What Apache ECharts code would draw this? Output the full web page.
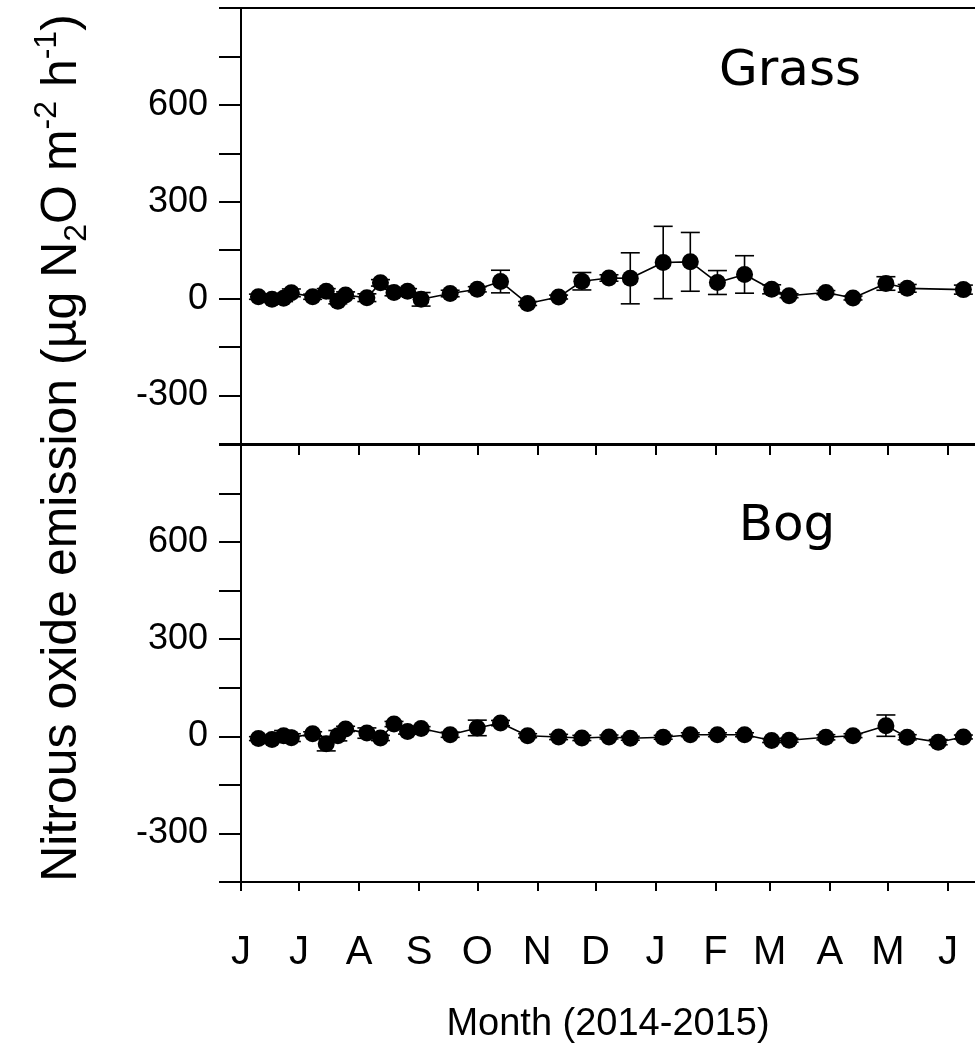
<!DOCTYPE html>
<html><head><meta charset="utf-8">
<script src="https://cdn.jsdelivr.net/npm/echarts@6/dist/echarts.min.js"></script>
<style>html,body{margin:0;padding:0;background:#fff}#c{width:975px;height:1050px}</style>
</head><body><div id="c"></div>
<script>
// ---- data ----
const monthLetters = ['J','J','A','S','O','N','D','J','F','M','A','M','J'];
const monthStarts = ['2014-06-01','2014-07-01','2014-08-01','2014-09-01','2014-10-01','2014-11-01','2014-12-01',
                     '2015-01-01','2015-02-01','2015-03-01','2015-04-01','2015-05-01','2015-06-01'];
const yLabelValues = [600, 300, 0, -300];

const grassDates = ['2014-06-10','2014-06-17','2014-06-23','2014-06-27','2014-07-08','2014-07-15','2014-07-21','2014-07-25',
  '2014-08-05','2014-08-12','2014-08-19','2014-08-26','2014-09-02','2014-09-17','2014-10-01','2014-10-13','2014-10-27',
  '2014-11-12','2014-11-24','2014-12-08','2014-12-19','2015-01-05','2015-01-19','2015-02-02','2015-02-16','2015-03-02',
  '2015-03-11','2015-03-30','2015-04-13','2015-04-30','2015-05-11','2015-06-09'];
const grassMean = [6,-2,1,18,6,23,-8,11,3,49,19,23,-2,16,29,53,-15,5,54,64,63,112,114,50,75,29,9,19,2,47,32,28];
const grassErr  = [8,6,10,12,8,8,8,10,12,10,10,8,21,10,8,35,6,6,27,10,79,112,91,37,58,14,6,6,6,21,12,14];

const bogDates = ['2014-06-10','2014-06-17','2014-06-23','2014-06-27','2014-07-08','2014-07-15','2014-07-21','2014-07-25',
  '2014-08-05','2014-08-12','2014-08-19','2014-08-26','2014-09-02','2014-09-17','2014-10-01','2014-10-13','2014-10-27',
  '2014-11-12','2014-11-24','2014-12-08','2014-12-19','2015-01-05','2015-01-19','2015-02-02','2015-02-16','2015-03-02',
  '2015-03-11','2015-03-30','2015-04-13','2015-04-30','2015-05-11','2015-05-27','2015-06-09'];
const bogMean = [-7,-10,2,-4,8,-23,2,23,10,-5,38,15,24,5,26,41,2,-2,-5,-2,-6,-3,5,5,5,-13,-12,-3,2,33,-3,-18,-2];
const bogErr  = [6,6,16,12,6,22,16,8,16,8,8,8,6,8,24,8,6,8,8,6,6,6,6,6,6,6,6,8,6,33,8,8,6];

// ---- helpers: x is days since 2014-06-01 ----
const START = '2014-06-01';
function dayOf(s){ const p = s.split('-').map(Number); return Math.round((Date.UTC(p[0], p[1]-1, p[2]) - Date.UTC(2014,5,1)) / 86400000); }
const monthDays = monthStarts.map(dayOf);
const xMin = dayOf(START), xMax = dayOf('2015-06-15');
const FONT = "'Liberation Sans', Arial, sans-serif";
const NARROW = "'Liberation Sans Narrow', 'Arial Narrow', 'Liberation Sans', Arial, sans-serif";

function pts(dates, vals){ return dates.map((d,i)=>[dayOf(d), vals[i]]); }
function errs(dates, vals, e){ return dates.map((d,i)=>[dayOf(d), vals[i]-e[i], vals[i]+e[i]]); }

function renderErr(params, api){
  const x = api.value(0), lo = api.value(1), hi = api.value(2);
  const a = api.coord([x, hi]), b = api.coord([x, lo]);
  const hw = 9.5, st = {stroke:'#000', lineWidth:1.6};
  return {type:'group', children:[
    {type:'line', shape:{x1:a[0],y1:a[1],x2:b[0],y2:b[1]}, style:st},
    {type:'line', shape:{x1:a[0]-hw,y1:a[1],x2:a[0]+hw,y2:a[1]}, style:st},
    {type:'line', shape:{x1:b[0]-hw,y1:b[1],x2:b[0]+hw,y2:b[1]}, style:st}
  ]};
}

const axLine = {show:true, onZero:false, lineStyle:{color:'#000', width:2}};
function yAxis(gi){
  return {type:'value', gridIndex:gi, min:-450, max:900, interval:150,
    axisLine:axLine,
    axisTick:{show:true, inside:false, length:22, lineStyle:{color:'#000', width:2}},
    axisLabel:{show:true, margin:33, fontSize:36, fontFamily:FONT, color:'#000',
      formatter:v => yLabelValues.indexOf(v) >= 0 ? String(v) : ''},
    splitLine:{show:false}};
}
function xAxis(gi, pos, opts){
  return Object.assign({type:'value', gridIndex:gi, position:pos, min:xMin, max:xMax,
    axisLine:axLine, axisTick:{show:false}, axisLabel:{show:false}, splitLine:{show:false}}, opts||{});
}

const chart = echarts.init(document.getElementById('c'), null, {renderer:'canvas'});
chart.setOption({
  backgroundColor:'#fff',
  animation:false,
  grid:[
    {left:241, top:8, width:738, height:436},
    {left:241, top:445, width:738, height:437}
  ],
  xAxis:[
    xAxis(0,'bottom'),
    xAxis(0,'top'),
    xAxis(1,'bottom',{
      axisTick:{show:true, inside:false, length:9, lineStyle:{color:'#000', width:2}, customValues:monthDays},
      axisLabel:{show:true, customValues:monthDays, margin:51, fontSize:40, fontFamily:NARROW, color:'#000',
        formatter:v => { const i = monthDays.indexOf(v); return i >= 0 ? monthLetters[i] : ''; }},
      name:'Month (2014-2015)', nameLocation:'middle', nameGap:124,
      nameTextStyle:{fontSize:38, fontFamily:NARROW, color:'#000'}
    }),
    xAxis(1,'top',{
      axisTick:{show:true, inside:true, length:10, lineStyle:{color:'#000', width:2}, customValues:monthDays}
    })
  ],
  yAxis:[yAxis(0), yAxis(1)],
  series:[
    {type:'custom', xAxisIndex:0, yAxisIndex:0, renderItem:renderErr, data:errs(grassDates, grassMean, grassErr),
      encode:{x:0, y:[1,2]}, z:1, silent:true},
    {type:'line', xAxisIndex:0, yAxisIndex:0, data:pts(grassDates, grassMean), symbol:'circle', symbolSize:17,
      showAllSymbol:true, itemStyle:{color:'#000'}, lineStyle:{color:'#000', width:1.6}, z:3},
    {type:'custom', xAxisIndex:2, yAxisIndex:1, renderItem:renderErr, data:errs(bogDates, bogMean, bogErr),
      encode:{x:0, y:[1,2]}, z:1, silent:true},
    {type:'line', xAxisIndex:2, yAxisIndex:1, data:pts(bogDates, bogMean), symbol:'circle', symbolSize:17,
      showAllSymbol:true, itemStyle:{color:'#000'}, lineStyle:{color:'#000', width:1.6}, z:3}
  ],
  graphic:[
    {type:'text', x:790, y:72, style:{text:'Grass', fontSize:50, fontFamily:"'DejaVu Sans', sans-serif", fill:'#000',
      textAlign:'center', textVerticalAlign:'middle', align:'center', verticalAlign:'middle'}},
    {type:'text', x:787, y:527, style:{text:'Bog', fontSize:50, fontFamily:"'DejaVu Sans', sans-serif", fill:'#000',
      textAlign:'center', textVerticalAlign:'middle', align:'center', verticalAlign:'middle'}},
    {type:'text', x:62, y:448, rotation:Math.PI/2, style:{
      text:'{a|Nitrous oxide emission (µg N}{s|2}{a|O m}{p|-2}{a| h}{p|-1}{a|)}',
      textAlign:'center', textVerticalAlign:'middle', align:'center', verticalAlign:'middle',
      rich:{
        a:{fontSize:50, fontFamily:FONT, fill:'#000', color:'#000', lineHeight:62},
        s:{fontSize:32, fontFamily:FONT, fill:'#000', color:'#000', verticalAlign:'bottom'},
        p:{fontSize:32, fontFamily:FONT, fill:'#000', color:'#000', verticalAlign:'top'}
      }}}
  ]
});
</script></body></html>
